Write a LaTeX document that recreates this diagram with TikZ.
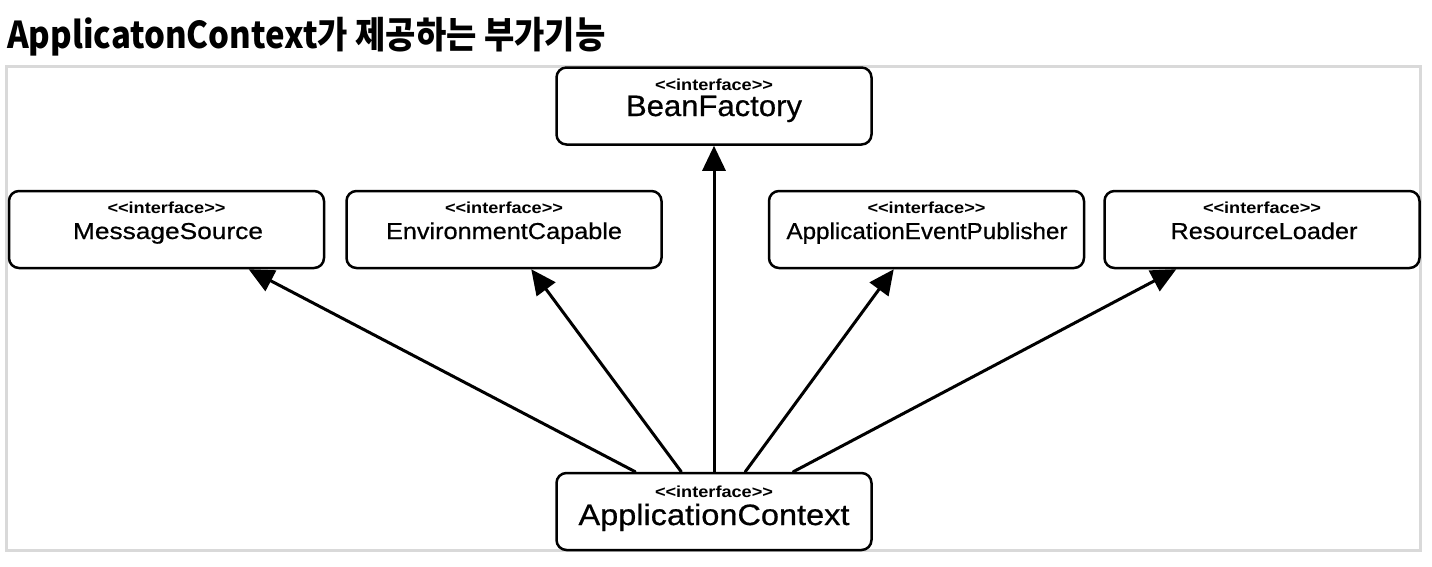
\documentclass[tikz,border=0pt]{standalone}
\usepackage{fontspec}
\usepackage{graphicx}
\setmainfont{Liberation Sans}
\newfontfamily\kr{Noto Sans CJK KR}
\newfontfamily\namefont{Liberation Sans}[FakeBold=0.6]
\usetikzlibrary{arrows.meta,calc}
\newcommand{\ifacelbl}{\resizebox{118pt}{\height}{\fontsize{16}{16}\selectfont\bfseries <{}<interface>{}>}}
\newcommand{\rowname}[2]{\resizebox{#1pt}{\height}{\fontsize{23}{23}\selectfont\namefont #2}}
\newcommand{\bigname}[2]{\resizebox{#1pt}{\height}{\fontsize{29.5}{29.5}\selectfont\namefont #2}}
\begin{document}
\begin{tikzpicture}[x=1pt,y=-1pt,
  box/.style={draw=black,line width=2.5pt,rounded corners=10pt,fill=white,inner sep=0pt,minimum height=77pt,minimum width=315pt},
  txt/.style={anchor=base,inner sep=0pt},
  arr/.style={line width=3pt,line cap=round,-{Triangle[length=25pt,width=23pt]}}]
\useasboundingbox (0,0) rectangle (1432,566);
\fill[white] (0,0) rectangle (1432,566);
\node[anchor=base west,inner sep=0pt] (title) at (7,48) {\scalebox{0.89}[1]{\fontsize{37}{37}\selectfont\kr\bfseries ApplicatonContext가 제공하는 부가기능}};
\draw[line width=3pt,color={rgb,255:red,217;green,217;blue,217}] (6,66) rectangle (1420,550);
% boxes
\node[box] (bf) at (714,106) {};
\node[box] (ms) at (166.5,229.5) {};
\node[box] (ec) at (504,229.5) {};
\node[box] (ae) at (926.5,229.5) {};
\node[box] (rl) at (1262,229.5) {};
\node[box] (ac) at (714,511.5) {};
% texts
\node[txt] (bfi) at (714,90) {\ifacelbl};
\node[txt] (bfn) at (714,116) {\bigname{176}{BeanFactory}};
\node[txt] (msi) at (166.5,213) {\ifacelbl};
\node[txt] (msn) at (168,239) {\rowname{190}{MessageSource}};
\node[txt] (eci) at (504,213) {\ifacelbl};
\node[txt] (ecn) at (504,239) {\rowname{236}{EnvironmentCapable}};
\node[txt] (aei) at (926.5,213) {\ifacelbl};
\node[txt] (aen) at (927,239) {\rowname{281}{ApplicationEventPublisher}};
\node[txt] (rli) at (1262,213) {\ifacelbl};
\node[txt] (rln) at (1264,239) {\rowname{187}{ResourceLoader}};
\node[txt] (aci) at (714,497) {\ifacelbl};
\node[txt] (acn) at (714,525) {\bigname{271}{ApplicationContext}};
% arrows
\draw[arr] ($(ac.north west)+(80,0)$) -- ($(ms.south west)+(241,0)$);
\draw[arr] ($(ac.north west)+(126,0)$) -- ($(ec.south west)+(186,0)$);
\draw[arr] (ac.north) -- (bf.south);
\draw[arr] ($(ac.north west)+(190,0)$) -- ($(ae.south west)+(126,0)$);
\draw[arr] ($(ac.north west)+(238,0)$) -- ($(rl.south west)+(73,0)$);
\end{tikzpicture}
\end{document}
